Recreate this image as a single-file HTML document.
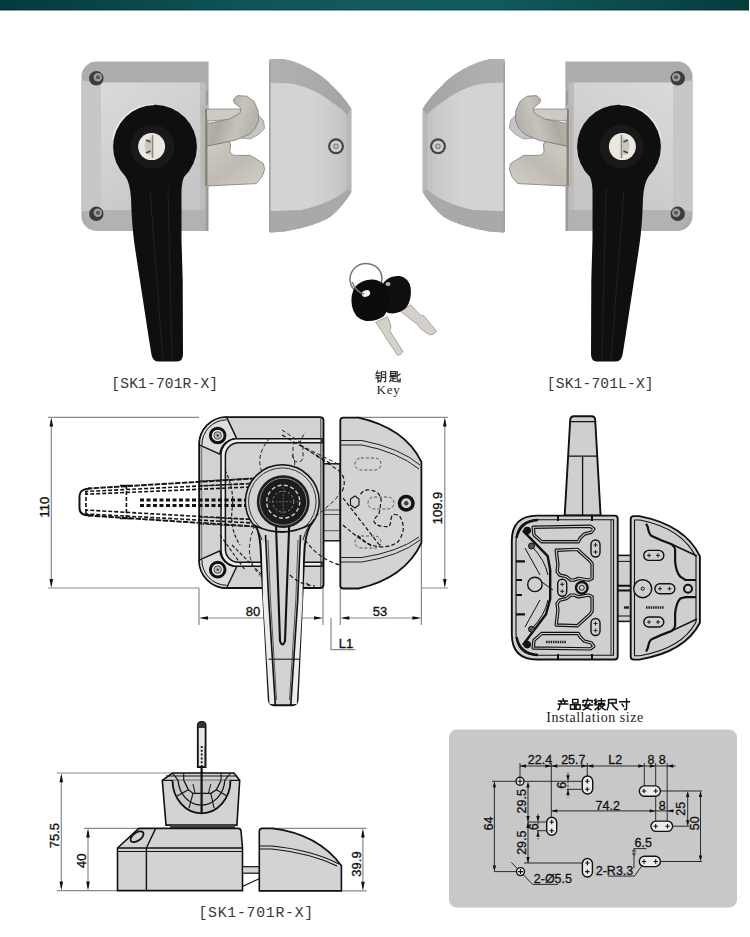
<!DOCTYPE html>
<html><head><meta charset="utf-8">
<style>
html,body{margin:0;padding:0;background:#fff;}
body{width:750px;height:937px;overflow:hidden;position:relative;}
svg{position:absolute;left:0;top:0;display:block;}

</style></head><body>
<svg width="750" height="937" viewBox="0 0 750 937">
<defs>
<linearGradient id="topbar" x1="0" y1="0" x2="1" y2="0">
<stop offset="0" stop-color="#053a3c"/><stop offset="0.2" stop-color="#0a4a4c"/><stop offset="0.33" stop-color="#0f5558"/><stop offset="0.5" stop-color="#115a5e"/><stop offset="0.67" stop-color="#105a5c"/><stop offset="0.87" stop-color="#0a4848"/><stop offset="1" stop-color="#063c3e"/>
</linearGradient>
<linearGradient id="frameTop" x1="0" y1="0" x2="0" y2="1">
<stop offset="0" stop-color="#b4b4b4"/><stop offset="1" stop-color="#a4a4a4"/>
</linearGradient>
<linearGradient id="face" x1="0" y1="0" x2="1" y2="1">
<stop offset="0" stop-color="#d4d4d4"/><stop offset="1" stop-color="#c8c8c8"/>
</linearGradient>
<linearGradient id="steel" x1="0" y1="0" x2="1" y2="1">
<stop offset="0" stop-color="#dcdad6"/><stop offset="0.5" stop-color="#b9b6b0"/><stop offset="1" stop-color="#d6d3cd"/>
</linearGradient>
<linearGradient id="handleG" x1="0" y1="0" x2="1" y2="0">
<stop offset="0" stop-color="#0c0c0c"/><stop offset="0.5" stop-color="#1c1c1c"/><stop offset="1" stop-color="#0a0a0a"/>
</linearGradient>
<!-- Left photo group (lock R) -->
<linearGradient id="faceG" x1="0" y1="0" x2="0.6" y2="1">
<stop offset="0" stop-color="#dadada"/><stop offset="0.6" stop-color="#cfcfcf"/><stop offset="1" stop-color="#c6c6c6"/>
</linearGradient>
<linearGradient id="strikeTop" x1="0" y1="0" x2="1" y2="1">
<stop offset="0" stop-color="#b2b2b2"/><stop offset="1" stop-color="#9c9c9c"/>
</linearGradient>
<linearGradient id="strikeFace" x1="0" y1="0" x2="1" y2="0">
<stop offset="0" stop-color="#d2d2d2"/><stop offset="0.5" stop-color="#d4d4d4"/><stop offset="0.85" stop-color="#cacaca"/><stop offset="1" stop-color="#c0c0c0"/>
</linearGradient>
<linearGradient id="steel2" x1="0" y1="0" x2="1" y2="0.3">
<stop offset="0" stop-color="#c2beb6"/><stop offset="0.35" stop-color="#aeaaa2"/><stop offset="0.7" stop-color="#c6c3bc"/><stop offset="1" stop-color="#b5b2ab"/>
</linearGradient>
<linearGradient id="steel3" x1="0" y1="0" x2="1" y2="1">
<stop offset="0" stop-color="#cfccc5"/><stop offset="0.5" stop-color="#bfbbb3"/><stop offset="1" stop-color="#d2cfc9"/>
</linearGradient>
<radialGradient id="ringG" cx="0.45" cy="0.4" r="0.6">
<stop offset="0" stop-color="#1e1e1e"/><stop offset="0.55" stop-color="#141414"/><stop offset="1" stop-color="#0a0a0a"/>
</radialGradient>
<g id="photoR">
  <!-- box body -->
  <path d="M96.5,61.5 H208.6 V91 H205.5 V231 H96.5 A15,15 0 0 1 81.5,216 V76.5 A15,15 0 0 1 96.5,61.5 Z" fill="#acacac"/>
  <path d="M81.5,80 V212 L100.5,208 V84 Z" fill="#c7c7c7"/>
  <path d="M84,212 Q86,228 100,231 H205.5 V210 H100.5 Z" fill="#b2b2b2"/>
  <path d="M104.5,82.5 H201 V210 H100.5 V86.5 A4,4 0 0 1 104.5,82.5 Z" fill="url(#faceG)"/>
  <rect x="200" y="82.5" width="5.5" height="127.5" fill="#bdbdbd"/>
  <rect x="205.5" y="91" width="3" height="140" fill="#9a9a9a"/>
  <!-- screws -->
  <circle cx="96.3" cy="78.3" r="7.2" fill="#3c3c3c"/><circle cx="97.8" cy="77.3" r="4.2" fill="#9d9d9d"/><circle cx="98" cy="77.3" r="2" fill="#555"/>
  <circle cx="96.3" cy="213.8" r="7.2" fill="#3c3c3c"/><circle cx="97.8" cy="212.8" r="4.2" fill="#9d9d9d"/><circle cx="98" cy="212.8" r="2" fill="#555"/>
  <!-- latch -->
  <rect x="201.8" y="105" width="6.4" height="82" fill="#b9b6b0"/>
  <path d="M205.9,109 H241 L241,119 L207,121 Z" fill="#cdcac4" stroke="#7e7b75" stroke-width="0.7"/>
  <path d="M258.7,115.5 L263.4,120.2 L264.6,128.4 L258.7,134.3 L250.5,139 L238.7,137.8 Z" fill="#c4c6c8" stroke="#8b8985" stroke-width="0.7"/>
  <path d="M207,146 L229.3,141.3 Q231.5,144 229.9,150.7 Q230.5,155.4 236,155.4 H250.5 L263.4,163.6 L264.6,169.5 L262.2,176.5 L256.3,183.6 L207,186 Z" fill="url(#steel3)" stroke="#7e7b75" stroke-width="0.8"/>
  <path d="M207,123.7 L229.3,119 L239.9,113.2 L241.1,108.5 L234,102.6 L233.5,99.1 L237.6,95.6 L246.9,96.2 L254,101.4 L258.1,110.8 L258.7,120.2 L255.2,128.4 L249.3,134.3 L235.2,140.2 L207,146 Z" fill="url(#steel2)" stroke="#7e7b75" stroke-width="0.8"/>
  <path d="M206,109 V186" stroke="#6f6c66" stroke-width="1.2"/>
  <!-- strike -->
  <path d="M270.5,59.1 H284.3 C300,62 322,74 331,84.5 C340,93 347,101 351.3,108.8 V192 C345,203 338,210 331,216.3 C322,223 300,229 284.3,231.5 L270.5,232.6 Q269,232.6 269,231 V60.7 Q269,59.1 270.5,59.1 Z" fill="url(#strikeTop)"/>
  <path d="M269.5,82.5 L290.4,83.5 C300,85 305,87 310.7,89.6 C318,93 322,95 326.9,98.7 C333,103 337,106 341.1,108.8 L347.2,114.9 V190 C340,196 333,199 326.9,202.1 C318,206 309,208.5 300.6,210.2 L269.5,211.3 Z" fill="url(#strikeFace)"/>
  <path d="M347.2,114.9 L351.3,108.8 V192 L347.2,190 Z" fill="#b8b8b8"/>
  <path d="M269.5,211.3 L300.6,210.2 C309,208.5 318,206 326.9,202.1 C333,199 340,196 347.2,190 L351.3,192 C345,203 338,210 331,216.3 C322,223 300,229 284.3,231.5 L270.5,232.6 Z" fill="#a9a9a9"/>
  <rect x="269" y="62" width="1.6" height="168" fill="#a0a0a0"/>
  <circle cx="336" cy="146.3" r="8" fill="#454545"/><circle cx="336" cy="146.3" r="5.8" fill="#cfcfcf"/><circle cx="336" cy="146.3" r="2.8" fill="#8a8a8a"/><circle cx="336" cy="146.3" r="1.2" fill="#d8d8d8"/>
  <!-- handle -->
  <path d="M125.5,176.5 Q130,183 131,198 C131.5,215 132.5,232 135,248 L148,333 L151,352 Q152,361.5 158,361.5 H177 Q183,361.5 183,354 L182.7,280 L181.5,240 L181.5,190 Q182,182 184,177 A41.9,41.9 0 1 0 125.5,176.5 Z" fill="#0f0f0f"/>
  <path d="M153.9,104.7 A41.9,41.9 0 0 0 112.5,140" fill="none" stroke="#f2f2f2" stroke-width="1.2" opacity="0.8"/>
  <path d="M150,190 L163,360 M168,188 L172,360" stroke="#262626" stroke-width="1.2" opacity="0.7"/>
  <circle cx="152.5" cy="146.6" r="22" fill="#191919"/>
  <circle cx="151.6" cy="146.6" r="13.5" fill="#e9e7e0"/>
  <path d="M152.5,135 V158" stroke="#8a867c" stroke-width="1.6"/>
  <path d="M152,137.5 Q144,139 144.5,146.5 Q145,154 152,155.5 Z" fill="#c9c5bb"/>
  <path d="M146,140 L150.5,142 M146,153 L150.5,151" stroke="#444" stroke-width="1.4"/>
</g>
</defs>
<rect x="0" y="0" width="750" height="937" fill="#ffffff"/>
<rect x="0" y="0" width="749" height="10.4" fill="url(#topbar)"/>
<rect x="0" y="9.4" width="749" height="1" fill="#000" opacity="0.25"/>
<use href="#photoR"/>
<use href="#photoR" transform="translate(774,0) scale(-1,1)"/>
<text x="164.8" y="388.2" text-anchor="middle" style="font-family:'Liberation Mono',monospace;font-size:14.6px" fill="#383838" letter-spacing="0.15">[SK1-701R-X]</text>
<text x="600.3" y="388.2" text-anchor="middle" style="font-family:'Liberation Mono',monospace;font-size:14.6px" fill="#383838" letter-spacing="0.15">[SK1-701L-X]</text>


<!-- ===== KEYS ===== -->
<g id="keys">
  <ellipse cx="366" cy="279" rx="16" ry="15.5" fill="none" stroke="#767676" stroke-width="1.5" transform="rotate(-10 366 279)"/>
  <!-- key2 blade -->
  <path d="M400.2,311 L410.7,304.7 L420,315 L424,316 L436.6,331.3 L433,334.5 L429.6,334.8 L421,329 L418,325 Z" fill="#d4d1ca" stroke="#9a968e" stroke-width="0.8"/>
  <!-- key2 head -->
  <path d="M384,282 Q390,275 400,276 Q409,278 410.7,288 Q412,300 406,308 Q398,315 388,313 Q381,310 380.6,298 Q380,288 384,282 Z" fill="#0f0f0f"/>
  <!-- key1 blade -->
  <path d="M375.7,322.2 L387.6,316.6 L391,326 L390,331 L403,351.6 L400,355 L397.4,355.1 L386,338 L381,330 Z" fill="#d4d1ca" stroke="#9a968e" stroke-width="0.8"/>
  <!-- key1 head -->
  <path d="M355,287 Q362,279 373,279.5 Q386,281 389.7,294 Q391,307 384,316 Q376,322 365,320.8 Q354,318 352,306 Q350,295 355,287 Z" fill="#0c0c0c"/>
  <ellipse cx="366" cy="293.5" rx="4.3" ry="3.2" fill="#f4f4f4" transform="rotate(-20 366 293.5)"/>
  <path d="M352,282 Q356,292 364,294" fill="none" stroke="#7a7a7a" stroke-width="1.4"/>
  <ellipse cx="388" cy="284" rx="2.5" ry="2" fill="#dcdcdc" opacity="0.8"/>
</g>
<g id="cn-key"><path d="M2.5,0.3 L0.8,3.5 M2,2.4 H5 M1,5 H4.8 M0.8,7.5 H4.8 M2.9,5 V11.6 L5,10.2 M6.5,1 V7 Q6.4,10 5.4,11.8 M6.5,1 H11 V10.8 Q11,11.8 9.6,11.4 M6.5,4.2 H11 M6.5,7 H11" transform="translate(375.2,370.8) scale(0.95)" fill="none" stroke="#2a2a2a" stroke-width="1.211" stroke-linecap="square"/><path d="M1.5,0.8 H6.8 V5 H1.5 Z M1.5,2.9 H6.8 M0.6,6.3 H7 M3.8,6.3 V10.3 M3.8,8.3 H6.4 M2,7.6 Q1.8,10 0.4,11.4 M1.6,10.2 Q4.5,11.6 11.6,11.6 M8.4,0.8 V9 Q8.4,10 9.8,10 H11.6 V8.4 M8.4,5.6 L11.4,3.4" transform="translate(389.2,370.8) scale(0.95)" fill="none" stroke="#2a2a2a" stroke-width="1.211" stroke-linecap="square"/></g>
<text x="388.6" y="393.5" text-anchor="middle" style="font-family:'Liberation Serif',serif;font-size:13px" fill="#2a2a2a" letter-spacing="0.9">Key</text>
<g id="cn-title"><path d="M6,0.3 L6.8,1.8 M1.5,2.6 H10.5 M3.8,3.6 L4.6,5 M8.2,3.6 L7.4,5 M1,5.7 H11 M2.6,5.7 V8 Q2.4,10.5 0.8,11.8" transform="translate(557.3,698.6) scale(0.95)" fill="none" stroke="#111" stroke-width="1.526" stroke-linecap="square"/><path d="M3.2,0.8 H8.8 V4.6 H3.2 Z M0.9,6.4 H5.2 V11.2 H0.9 Z M6.8,6.4 H11.1 V11.2 H6.8 Z" transform="translate(569.5999999999999,698.6) scale(0.95)" fill="none" stroke="#111" stroke-width="1.526" stroke-linecap="square"/><path d="M6,0.1 L6.6,1.5 M1.2,4 V2 H10.8 V4 M5.2,3.6 Q4.2,6 2.6,8 L9.5,11.6 M8.3,5.2 Q7.2,9.6 1.4,11.8 M0.8,6.8 H11.2" transform="translate(581.9,698.6) scale(0.95)" fill="none" stroke="#111" stroke-width="1.526" stroke-linecap="square"/><path d="M1.8,0.6 V5.8 M0.4,1.8 L1.2,3 M0.4,5.2 L2.8,3.6 M4.2,2.2 H11.2 M7.6,0.2 V5.2 M4.8,5.2 H10.6 M0.8,6.6 H11.2 M6,5.6 V6.6 M5.6,6.8 Q4.2,9.6 1,11.6 M4.4,8.6 V11.8 L6.2,10.8 M6.2,7.8 Q8.2,10.2 11.6,11.8 M9.8,7.4 L8.2,8.8" transform="translate(594.1999999999999,698.6) scale(0.95)" fill="none" stroke="#111" stroke-width="1.526" stroke-linecap="square"/><path d="M2.2,1 H10.2 V4.6 H2.2 M2.2,1 V5 Q2.2,9 0.5,11.8 M5.6,4.6 Q7.2,9.2 11.6,11.8" transform="translate(606.5,698.6) scale(0.95)" fill="none" stroke="#111" stroke-width="1.526" stroke-linecap="square"/><path d="M0.8,3.4 H11.2 M8.2,0.4 V10.8 Q8.2,11.8 6.4,11.4 M3.4,5.8 L5,8.2" transform="translate(618.8,698.6) scale(0.95)" fill="none" stroke="#111" stroke-width="1.526" stroke-linecap="square"/></g>
<!-- ===== FRONT VIEW DRAWING ===== -->
<g id="front" fill="none" stroke-linecap="butt">
  <!-- dimension lines -->
  <g stroke="#8a8a8a" stroke-width="1.2">
    <path d="M48,417.3 H199 M48,588 H199 M51.3,420 V585"/>
    <path d="M357,417.3 H448 M421,588 H448 M444.8,420 V585"/>
    <path d="M199,588 V625 M323,588 V625 M340.3,588 V625 M421.4,543 V625"/>
    <path d="M202,618 H320 M343,618 H418"/>
    <path d="M331,618 V649.6 H355.4"/>
  </g>
  <g fill="#111">
    <path d="M51.3,417.5 L49.5,426.5 H53.1 Z M51.3,588.0 L49.5,579.0 H53.1 Z"/>
    <path d="M444.8,417.5 L443.0,426.5 H446.6 Z M444.8,588.0 L443.0,579.0 H446.6 Z"/>
    <path d="M199.0,618.0 L208.0,616.2 V619.8 Z M323.0,618.0 L314.0,616.2 V619.8 Z"/>
    <path d="M340.3,618.0 L349.3,616.2 V619.8 Z M421.4,618.0 L412.4,616.2 V619.8 Z"/>
  </g>
  <g fill="#111" stroke="#111" stroke-width="0.35" style="font-family:'Liberation Sans',sans-serif;font-size:13px">
    <text x="0" y="0" text-anchor="middle" transform="translate(48.6,507.2) rotate(-90)">110</text>
    <text x="0" y="0" text-anchor="middle" transform="translate(442,508) rotate(-90)">109.9</text>
    <text x="253" y="616" text-anchor="middle">80</text>
    <text x="380" y="616" text-anchor="middle">53</text>
    <text x="346" y="648" text-anchor="middle">L1</text>
  </g>
  <!-- connector -->
  <rect x="323" y="463.8" width="17.3" height="77" fill="#d3d3d3" stroke="#111" stroke-width="1.4"/>
  <path d="M323,510 H340 M323,514.5 H340 M323,530.7 H340" stroke="#333" stroke-width="0.8"/>
  <!-- body -->
  <path d="M226.5,417.1 H320 Q323.5,417.1 323.5,420.5 V584.7 Q323.5,588 320,588 H226.5 A27.5,27.5 0 0 1 199.2,560.4 V444.7 A27.5,27.5 0 0 1 226.5,417.1 Z" fill="#d2d2d2" stroke="#111" stroke-width="1.9"/>
  <path d="M226.5,417.1 L236.8,438.6 A17,17 0 0 0 219.9,454.2 L199.2,444.9 A27.5,27.5 0 0 1 226.5,417.1 Z" fill="#dddddd" stroke="#111" stroke-width="1.4"/>
  <path d="M226.5,588 L236.8,566.5 A17,17 0 0 1 219.9,550.9 L199.2,560.2 A27.5,27.5 0 0 0 226.5,588 Z" fill="#dddddd" stroke="#111" stroke-width="1.4"/>
  <path d="M201.9,445 A25,25 0 0 1 226.4,419.8 M201.9,560.1 A25,25 0 0 0 226.4,585.3" stroke="#111" stroke-width="1"/>
  <path d="M201.7,447 V558" stroke="#555" stroke-width="0.8"/>
  <path d="M322,438.8 H237 A16,16 0 0 0 221,454.8 V550.3 A16,16 0 0 0 237,566.3 H322 V562.3 H238.5 A13,13 0 0 1 225.4,549.3 V455.8 A13,13 0 0 1 238.5,442.8 H322 Z" fill="#eeeeee" stroke="#111" stroke-width="1.5"/>
  <path d="M320.8,417.1 V588" stroke="#333" stroke-width="0.9"/>
  <!-- screws -->
  <circle cx="217.7" cy="435.5" r="7.3" fill="#eeeeee" stroke="#111" stroke-width="3"/><circle cx="217.7" cy="435.5" r="3.8" fill="#bdbdbd" stroke="#222" stroke-width="0.8"/><circle cx="217.7" cy="435.5" r="1.2" fill="#333"/>
  <circle cx="217.7" cy="569.6" r="7.3" fill="#eeeeee" stroke="#111" stroke-width="3"/><circle cx="217.7" cy="569.6" r="3.8" fill="#bdbdbd" stroke="#222" stroke-width="0.8"/><circle cx="217.7" cy="569.6" r="1.2" fill="#333"/>
  <!-- ghost handle (dashed) -->
  <g stroke="#111" stroke-width="1.6" stroke-dasharray="4 2">
    <path d="M262,478 L88,488.5 M88,515.5 L262,527" stroke-dasharray="5.5 1.3" stroke-width="1.9"/>
    <path d="M90,488.5 Q79.5,489 79.5,496 V508 Q79.5,515.5 90,515.5" stroke-dasharray="none" stroke-width="2"/>
    <path d="M262,483 L85,491.5 M262,486.5 L85,494.3 M262,520 L85,510 M262,523.5 L85,513.9"/>
    <path d="M86,491 V514 M126.4,485 V520"/>
  </g>
  <path d="M120,485.5 H132 M120,518.5 H132" stroke="#111" stroke-width="1.4"/>
  <g stroke="#111" stroke-width="3.2" stroke-dasharray="4 2.5">
    <path d="M140,500 H262 M140,505.5 H262"/>
  </g>
  <g stroke="#222" stroke-width="1.2" stroke-dasharray="3.5 2">
    <path d="M225,470 Q235,490 232,510 Q230,530 240,545 M220,535 L245,570 M232,545 L262,575"/>
  </g>
  <!-- internal dashed hidden lines (ghost) on body -->
  <g stroke="#222" stroke-width="1" stroke-dasharray="4 2.5">
    <path d="M200,481 L262,478 M200,524 L262,527 M200,485.9 L262,483 M200,517 L262,520"/>
    <path d="M270,438 Q255,455 262,472 M282,430 L300,442 L305,432 M292,455 Q300,470 285,468"/>
    <rect x="293" y="442" width="10" height="20" rx="5"/>
    <path d="M300,445 L340,465 Q350,480 335,500 L300,530 Q280,560 290,575 L310,585 M255,525 Q240,560 265,580"/>
  </g>
  <!-- ring -->
  <circle cx="282.3" cy="501.7" r="36.9" fill="#d3d3d3" stroke="#111" stroke-width="1.5"/>
  <circle cx="282.3" cy="501.7" r="33.8" fill="none" stroke="#222" stroke-width="0.9"/>
  <!-- handle -->
  <path d="M256,526 Q260.5,535 261,556 L268.8,700 Q269.5,705.3 274,705.3 H292 Q297,705.3 297.6,700 L304.2,556 Q304.5,535 311,524 Q296,532 282.3,532 Q268,532 256,526 Z" fill="#d3d3d3" stroke="#111" stroke-width="1.9"/>
  <path d="M262,545 L263,600 L269.5,704 H275 L268.7,600 L266,540 Z M303,545 L302.5,600 L296.8,704 H291 L297.7,600 L300,540 Z" fill="#ececec"/>
  <path d="M265.5,535 L268.7,600 L275.3,705 M300.5,535 L297.7,600 L290.8,705" stroke="#111" stroke-width="1.6"/>
  <path d="M268,540 L270.5,600 L276.5,700 M298,540 L295.8,600 L289.5,700" stroke="#333" stroke-width="0.8"/>
  <path d="M268.5,659.2 H300" stroke="#1a1a1a" stroke-width="1.1"/>
  <path d="M276,525 L280,641 Q282.5,648 285,641 L289.2,525" stroke="#111" stroke-width="2.1"/>
  <path d="M250,521 Q258,528 262,540 M314,519 Q306,528 303,540" stroke="#222" stroke-width="1"/>
  <circle cx="283.2" cy="501.7" r="26.4" fill="#1c1c1c"/>
  <circle cx="283.2" cy="501.7" r="23.5" fill="none" stroke="#9a9a9a" stroke-width="0.9"/>
  <circle cx="283.2" cy="501.7" r="16.5" fill="none" stroke="#cfcfcf" stroke-width="1.4" stroke-dasharray="4 2.5"/>
  <circle cx="283.2" cy="501.7" r="10.5" fill="none" stroke="#8a8a8a" stroke-width="1" stroke-dasharray="2.5 2"/>
  <path d="M283.2,487 V516 M268.5,501.7 H298" stroke="#6a6a6a" stroke-width="0.9" stroke-dasharray="2 1.5"/>
  <!-- strike -->
  <path d="M343.3,417.6 H358.5 Q405,428 421.4,461.8 V542.8 Q405,578 358.5,588.5 H343.3 Q340.3,588.5 340.3,585.5 V420.6 Q340.3,417.6 343.3,417.6 Z" fill="#d3d3d3" stroke="#111" stroke-width="1.8"/>
  <path d="M340.3,440.5 H362 Q400,448 420,465 M340.3,445 H362 Q398,452 419,469" stroke="#222" stroke-width="1"/>
  <path d="M340.3,562 H362 Q400,556 420,540 M340.3,557.5 H362 Q398,552 419,537" stroke="#222" stroke-width="1"/>
  <circle cx="406.2" cy="503.3" r="8.5" fill="#111"/><circle cx="406.2" cy="503.3" r="5" fill="#d3d3d3"/><circle cx="406.2" cy="503.3" r="2.3" fill="#444"/>
  <g stroke="#555" stroke-width="1" stroke-dasharray="3 2">
    <rect x="355" y="458" width="26" height="12" rx="6"/>
    <rect x="368" y="497" width="26" height="12" rx="6"/>
    <rect x="355" y="536" width="26" height="12" rx="6"/>
  </g>
  <g stroke="#111" stroke-width="1.2" stroke-dasharray="4 2.2">
    <path d="M360.5,494.2 Q364,489 369.7,490.1 Q377,491 378.8,494.2 Q382,499 380.8,502.3 Q380,510 378.8,514.5 Q372,520 374.7,522.6 Q377,527 388.9,526.6 Q391,524 391,518.5 Q392,514 395,514.5 Q400,515 401,518.5 Q404,525 403.1,530.7 Q401,539 397,542.8 Q390,547 380.8,546.9 Q372,546 366.6,542.8 L356.5,534.7"/>
    <path d="M343,498 L381,547 M343,525 Q360,540 372,546"/>
  </g>
  <path d="M350.5,499 L355,496 L359,499 L359,505 L355,508 L350.5,505 Z" fill="none" stroke="#111" stroke-width="1.1"/>
  <g stroke="#111" stroke-width="1.1" stroke-dasharray="4 2.5">
    <path d="M282,435 L330,463 M300,445 L338,470 Q348,478 342,492"/>
    <path d="M305,540 Q320,560 340,565 M290,575 Q300,585 315,586"/>
  </g>

</g>


<!-- ===== REAR VIEW DRAWING ===== -->
<g id="rear" fill="none">
  <!-- handle -->
  <path d="M574,416.3 H591.5 Q595,416.3 595.2,420 L600.6,515.5 H564.7 L570.2,420 Q570.5,416.3 574,416.3 Z" fill="#cfcfcf" stroke="#111" stroke-width="1.9"/>
  <path d="M570.3,421.6 H595 M568,456.2 H597.5 M582.6,456.2 V515" stroke="#111" stroke-width="1.3"/>
  <!-- connector -->
  <rect x="617" y="555.4" width="14" height="66" fill="#cfcfcf" stroke="#111" stroke-width="1.5"/>
  <path d="M617,561.4 H631 M617,616 H631" stroke="#111" stroke-width="1"/>
  <path d="M617,585.8 H631 M617,590.4 H631" stroke="#111" stroke-width="2"/>
  <!-- body -->
  <path d="M537,515.6 H614.7 Q617.7,515.6 617.7,518.6 V656.5 Q617.7,659.5 614.7,659.5 H537 Q511.8,659.5 511.8,634 V541 Q511.8,515.6 537,515.6 Z" fill="#cfcfcf" stroke="#111" stroke-width="1.9"/>
  <path d="M538,519.8 H613.5 V655.3 H538 Q516,655.3 516,633 V542 Q516,519.8 538,519.8 Z" stroke="#111" stroke-width="1.1"/>
  <path d="M611,520 V655" stroke="#111" stroke-width="0.9"/>
  <g fill="none" stroke-linejoin="round">
    <path d="M533.2,527.2 L590.4,526.3 L593.8,528.9 L591.2,532.3 L584.4,534 L580.1,538.3 L578.4,541.7 L541.7,541.7 L534,534.9 Z M533.2,648.0 L590.4,648.9 L593.8,646.3 L591.2,642.9 L584.4,641.2 L580.1,636.9 L578.4,633.5 L541.7,633.5 L534,640.3 Z M556.2,550.2 L577.5,549.4 L580.1,551.9 L590.4,561.3 L592.1,563.9 L592.1,578.4 L588.6,580.1 L578.4,578.4 L574.1,580.1 L570.7,580.1 L566.5,576.7 L559.6,575 L557.1,571.6 L557.9,564.8 Z M556.2,625.0 L577.5,625.8 L580.1,623.3 L590.4,613.9 L592.1,611.3 L592.1,596.8 L588.6,595.1 L578.4,596.8 L574.1,595.1 L570.7,595.1 L566.5,598.5 L559.6,600.2 L557.1,603.6 L557.9,610.4 Z" stroke="#111" stroke-width="3.4"/>
    <path d="M533.2,527.2 L590.4,526.3 L593.8,528.9 L591.2,532.3 L584.4,534 L580.1,538.3 L578.4,541.7 L541.7,541.7 L534,534.9 Z M533.2,648.0 L590.4,648.9 L593.8,646.3 L591.2,642.9 L584.4,641.2 L580.1,636.9 L578.4,633.5 L541.7,633.5 L534,640.3 Z M556.2,550.2 L577.5,549.4 L580.1,551.9 L590.4,561.3 L592.1,563.9 L592.1,578.4 L588.6,580.1 L578.4,578.4 L574.1,580.1 L570.7,580.1 L566.5,576.7 L559.6,575 L557.1,571.6 L557.9,564.8 Z M556.2,625.0 L577.5,625.8 L580.1,623.3 L590.4,613.9 L592.1,611.3 L592.1,596.8 L588.6,595.1 L578.4,596.8 L574.1,595.1 L570.7,595.1 L566.5,598.5 L559.6,600.2 L557.1,603.6 L557.9,610.4 Z" stroke="#cfcfcf" stroke-width="1.1"/>
    <path d="M522.9,530.6 L547.7,556.2 L550.2,569.9 L550.2,598.9 L546,614.3 L522.9,645" stroke="#111" stroke-width="2.4"/>
    <path d="M531.5,546 Q545,560 548,575 M531.5,629 Q545,615 548,600 M525,548 L540,575 M540,600 L525,627 M553,590 L534.9,577" stroke="#111" stroke-width="1"/>
    <path d="M538,520 Q520,521 516.5,538 M538,655 Q520,654 516.5,637" stroke="#111" stroke-width="2.4"/>
  </g>
  <path d="M558,516 V521 M592,516 V521 M558,654 V659 M592,654 V659" stroke="#111" stroke-width="2"/>
  <path d="M516,561.3 H525 M516,614.3 H525 M516,580 H522 M516,595 H522" stroke="#111" stroke-width="2.2"/>
  <g stroke="#111" stroke-width="1.4" fill="#cfcfcf">
    <rect x="591" y="540" width="9" height="17" rx="4.5"/>
    <rect x="591" y="618.5" width="9" height="17" rx="4.5"/>
    <rect x="557.7" y="579.3" width="9" height="17" rx="4.5"/>
    <circle cx="534.9" cy="584.4" r="7.2"/>
  </g>
  <path d="M593.5,545 H597.5 M595.5,543 V547 M593.5,552 H597.5 M595.5,550 V554 M593.5,623.5 H597.5 M595.5,621.5 V625.5 M593.5,630.5 H597.5 M595.5,628.5 V632.5 M560.2,584.3 H564.2 M562.2,582.3 V586.3 M560.2,591.3 H564.2 M562.2,589.3 V593.3" stroke="#111" stroke-width="0.9"/>
  <circle cx="581.8" cy="587.8" r="5.8" fill="#cfcfcf" stroke="#111" stroke-width="2.4"/>
  <circle cx="581.8" cy="587.8" r="2.5" stroke="#111" stroke-width="0.9"/>
  <circle cx="527.2" cy="530.6" r="3.8" fill="#111"/><circle cx="527.2" cy="644.6" r="3.8" fill="#111"/>
  <circle cx="531.5" cy="546" r="3" fill="#555" stroke="#111" stroke-width="1"/><circle cx="531.5" cy="629.2" r="3" fill="#555" stroke="#111" stroke-width="1"/>
  <path d="M546,642 H566" stroke="#222" stroke-width="2.6" stroke-dasharray="1.5 0.8"/>
  <!-- strike -->
  <path d="M633.7,516.1 H639.3 Q685,525 699.9,556.2 V622.8 Q685,652 639.3,659.6 H633.7 Q630.7,659.6 630.7,656.6 V519.1 Q630.7,516.1 633.7,516.1 Z" fill="#cfcfcf" stroke="#111" stroke-width="1.9"/>
  <path d="M634.5,520 H640 Q682,528.5 696,557 V622 Q682,648.5 640,655.7 H634.5 Z" stroke="#111" stroke-width="1.1"/>
  <g stroke="#111" stroke-width="2.2">
    <path d="M646.1,523.8 L647.8,527.2 Q649,534 651.2,535.7 Q660,540 671.7,544.3 Q675,547 675.1,549.4 V561.4 Q676,572 680.3,576.7 L685.4,580 H696"/>
    <path d="M646.1,651.4 L647.8,648 Q649,641.2 651.2,639.5 Q660,635.2 671.7,630.9 Q675,628.2 675.1,625.8 V613.8 Q676,603.2 680.3,598.5 L685.4,597.2 H696"/>
    <path d="M671.7,544.3 L697,556 M671.7,630.9 L697,619" stroke-width="1.6"/>
  </g>
  <g stroke="#111" stroke-width="1.4" fill="#cfcfcf">
    <rect x="643.8" y="550.4" width="20" height="10" rx="5"/>
    <rect x="654.9" y="583.7" width="20" height="10" rx="5"/>
    <rect x="643.8" y="617" width="20" height="10" rx="5"/>
    <circle cx="642.7" cy="588.7" r="9"/>
  </g>
  <path d="M647,555.4 H651 M649,553.4 V557.4 M656,555.4 H660 M658,553.4 V557.4 M658,588.7 H662 M660,586.7 V590.7 M667.5,588.7 H671.5 M669.5,586.7 V590.7 M647,622 H651 M649,620 V624 M656,622 H660 M658,620 V624" stroke="#111" stroke-width="0.9"/>
  <circle cx="642.7" cy="588.7" r="1.6" stroke="#111" stroke-width="1"/>
  <circle cx="688" cy="588.7" r="4" fill="#cfcfcf" stroke="#111" stroke-width="2"/>
  <path d="M646,607.5 H664" stroke="#222" stroke-width="2.6" stroke-dasharray="1.5 0.8"/>
  <path d="M624,607.5 H629" stroke="#222" stroke-width="2.4"/>
</g>
<!-- ===== SIDE VIEW DRAWING ===== -->
<g id="side" fill="none">
  <g stroke="#8a8a8a" stroke-width="1.2">
    <path d="M57,773 H172 M84,828.4 H139 M57,890.6 H117 M61.3,776 V887.5 M88,831 V887.5"/>
    <path d="M272,828.4 H366.6 M341,890.9 H366.6 M362.9,831.5 V888"/>
  </g>
  <g fill="#111">
    <path d="M61.3,773.2 L59.5,782.2 H63.1 Z M61.3,890.4 L59.5,881.4 H63.1 Z"/>
    <path d="M88.0,828.6 L86.2,837.6 H89.8 Z M88.0,890.4 L86.2,881.4 H89.8 Z"/>
    <path d="M362.9,828.6 L361.1,837.6 H364.7 Z M362.9,890.7 L361.1,881.7 H364.7 Z"/>
  </g>
  <g fill="#111" stroke="#111" stroke-width="0.35" style="font-family:'Liberation Sans',sans-serif;font-size:13px">
    <text x="0" y="0" text-anchor="middle" transform="translate(58.6,835.6) rotate(-90)">75.5</text>
    <text x="0" y="0" text-anchor="middle" transform="translate(85.8,860.8) rotate(-90)">40</text>
    <text x="0" y="0" text-anchor="middle" transform="translate(360.8,864) rotate(-90)">39.9</text>
  </g>
  <!-- handle stick -->
  <path d="M201.6,767 V812" stroke="#111" stroke-width="2.2"/>
  <path d="M197.8,767 V725.5 Q197.8,721.8 201.7,721.8 Q205.6,721.8 205.6,725.5 V767 Z" fill="#e8e8e8" stroke="#111" stroke-width="1.8"/>
  <path d="M198.2,722.5 H205.2 V728 H198.2 Z" fill="#333"/>
  <path d="M201.7,746 V766" stroke="#111" stroke-width="1.8" stroke-dasharray="2 1.8"/>
  <path d="M198.5,746 V767 M204.8,746 V767" stroke="#444" stroke-width="0.8"/>
  <!-- head -->
  <path d="M172.5,773 H234 L239.7,780.3 L236.9,825.1 H166 L162.3,780.3 Z" fill="#d3d3d3" stroke="#111" stroke-width="1.6"/>
  <path d="M162.3,780.3 H239.7" stroke="#111" stroke-width="1.2"/>
  <rect x="170" y="825" width="65" height="3.4" fill="#444"/>
  <path d="M172.5,780.3 A29,33 0 0 0 230.5,780.3" fill="#c8c8c8" stroke="#111" stroke-width="1.8"/>
  <path d="M178.1,780.3 A23.4,26.5 0 0 0 224.8,780.3" stroke="#111" stroke-width="1.3"/>
  <path d="M183.7,780.3 L188.4,789.7 L193,793.4 H210.8 L216.4,789.7 L221.1,780.3" stroke="#111" stroke-width="1.3"/>
  <path d="M188.4,789.7 L177,796 M193,793.4 L189,808 M210.8,793.4 L214,808 M216.4,789.7 L227,796" stroke="#111" stroke-width="1.1"/>
  <path d="M166,776 H237 M172.5,773 L178.1,780.3 M230.5,773 L224.8,780.3 M183.7,773.5 V780.3 M221.1,773.5 V780.3" stroke="#111" stroke-width="1.1"/>
  <path d="M193,784 L195,793 M210.8,784 L208.5,793" stroke="#111" stroke-width="1"/>
  <path d="M201.6,772 V813" stroke="#111" stroke-width="2.2"/>
  <!-- base -->
  <path d="M138.9,828.4 H238 Q240.7,828.4 241,831 L242.5,848 V890.6 H117.5 V848 Z" fill="#d3d3d3" stroke="#111" stroke-width="1.6"/>
  <path d="M117.5,848 H242.5" stroke="#111" stroke-width="1.6"/>
  <path d="M117.5,851.5 H242.5" stroke="#111" stroke-width="1"/>
  <path d="M146.4,848 V890.6 M146.4,848 L155.7,828.4" stroke="#111" stroke-width="1.4"/>
  <ellipse cx="137" cy="836.8" rx="7.5" ry="4" transform="rotate(-35 137 836.8)" stroke="#111" stroke-width="1.8" fill="#d3d3d3"/>
  <!-- connector -->
  <rect x="242.5" y="866.7" width="17" height="6.5" fill="#d3d3d3" stroke="#111" stroke-width="1.2"/>
  <path d="M243,886.3 L259,878.8" stroke="#111" stroke-width="1.2"/>
  <!-- strike side -->
  <path d="M262.3,828.4 H272.3 Q318,834 341.4,865.7 V890.9 H259.3 V831.4 Q259.3,828.4 262.3,828.4 Z" fill="#d3d3d3" stroke="#111" stroke-width="1.6"/>
  <path d="M259.3,846 H272 Q312,850 339,864 M259.3,849 H272 Q310,853 337,866" stroke="#111" stroke-width="1.1"/>
</g>
<text x="256.2" y="917" text-anchor="middle" style="font-family:'Liberation Mono',monospace;font-size:14.8px" fill="#383838" letter-spacing="0.75">[SK1-701R-X]</text>

<!-- installation panel -->

<rect x="449" y="729.6" width="288" height="178" rx="8" fill="#c8c8c8"/>
<g id="inst" fill="none">
  <g stroke="#2a2a2a" stroke-width="1">
    <!-- top horizontal dim -->
    <path d="M520,766 H675.5 M520,763 V777 M551.3,763 V817.3 M587.3,763 V776 M644.3,763 V786 M655.7,763 V786 M667.2,763 V821"/>
    <!-- left 64 -->
    <path d="M492,781.3 H516 M494,871.6 H516.5 M494.4,784 V869"/>
    <!-- 29.5 -->
    <path d="M524,781.3 H582.3 M528,784 V863 M528,822 H546.7 M524,863 H582.4"/>
    <!-- 6 dims -->
    <path d="M566.7,789.3 H582.3 M536.7,830.7 H546.7"/>
    <!-- 74.2 -->
    <path d="M551.3,810.9 H674"/>
    <path d="M655.7,796 V821"/>
    <!-- 25 / 50 -->
    <path d="M660.4,791 H702 M672.6,826.2 H689.5 M660.4,861.5 H702 M687.7,793 V824 M700.5,793 V859"/>
    <!-- 6.5 -->
    <path d="M634,848.6 H646.6 M634,848.6 V868"/>
    <!-- leaders -->
    <path d="M511.3,862.4 L532.7,884.4 H558.3"/>
    <path d="M608,876.1 H634.5 L641.8,865.9"/>
  </g>
  <g stroke="#2a2a2a" stroke-width="1" stroke-dasharray="2.5 1.5">
    <path d="M568,772.7 V797.3 M538,814 V839.3"/>
  </g>
  <g fill="#111">
    <path d="M520,766 L526,764.3 V767.7 Z M551.3,766 L545.3,764.3 V767.7 Z M551.3,766 L557.3,764.3 V767.7 Z M587.3,766 L581.3,764.3 V767.7 Z M587.3,766 L593.3,764.3 V767.7 Z M644.3,766 L638.3,764.3 V767.7 Z M655.7,766 L649.7,764.3 V767.7 Z M667.2,766 L673.2,764.3 V767.7 Z"/>
    <path d="M494.4,781.3 L492.7,787.3 H496.1 Z M494.4,871.6 L492.7,865.6 H496.1 Z"/>
    <path d="M528,781.5 L526.3,787.5 H529.7 Z M528,863 L526.3,857 H529.7 Z M528,822 L526.3,816 H529.7 Z M528,822 L526.3,828 H529.7 Z"/>
    <path d="M568,781.3 L566.3,775.3 H569.7 Z M568,789.3 L566.3,795.3 H569.7 Z M538,822 L536.3,816 H539.7 Z M538,830.7 L536.3,836.7 H539.7 Z"/>
    <path d="M551.3,810.9 L557.3,809.2 V812.6 Z M655.7,810.9 L649.7,809.2 V812.6 Z M667.2,810.9 L673.2,809.2 V812.6 Z"/>
    <path d="M687.7,791 L686,797 H689.4 Z M687.7,826.2 L686,820.2 H689.4 Z M700.5,791 L698.8,797 H702.2 Z M700.5,861.5 L698.8,855.5 H702.2 Z"/>
    <path d="M634,848.6 L632.3,854.6 H635.7 Z M634,856.3 L632.3,850.3 H635.7 Z"/>
  </g>
  <!-- holes -->
  <g stroke="#111" stroke-width="1.4" fill="#ececec">
    <circle cx="520" cy="781.3" r="4"/>
    <circle cx="520.5" cy="871.6" r="4"/>
    <rect x="582.3" y="776" width="10.4" height="18" rx="5.2"/>
    <rect x="546.7" y="817.3" width="10" height="18" rx="5"/>
    <rect x="582.4" y="858.5" width="10" height="18.5" rx="5"/>
    <rect x="639.3" y="785.9" width="21.1" height="10.3" rx="5.15"/>
    <rect x="651" y="821.1" width="21.6" height="10.3" rx="5.15"/>
    <rect x="639.3" y="856.3" width="21.1" height="10.3" rx="5.15"/>
  </g>
  <g stroke="#111" stroke-width="1.1">
    <path d="M517.5,781.3 H522.5 M520,778.8 V783.8 M518,871.6 H523 M520.5,869.1 V874.1"/>
    <path d="M585.1,781.3 H589.5 M587.3,779.1 V783.5 M585.1,789.3 H589.5 M587.3,787.1 V791.5"/>
    <path d="M549.5,822 H553.9 M551.7,819.8 V824.2 M549.5,830.7 H553.9 M551.7,828.5 V832.9"/>
    <path d="M585.2,863 H589.6 M587.4,860.8 V865.2 M585.2,871.6 H589.6 M587.4,869.4 V873.8"/>
    <path d="M641.8,791 H646.2 M644,788.8 V793.2 M653.5,791 H657.9 M655.7,788.8 V793.2"/>
    <path d="M653.5,826.2 H657.9 M655.7,824 V828.4 M665.3,826.2 H669.7 M667.5,824 V828.4"/>
    <path d="M641.8,861.5 H646.2 M644,859.3 V863.7 M653.5,861.5 H657.9 M655.7,859.3 V863.7"/>
  </g>
  <g fill="#111" stroke="#111" stroke-width="0.3" style="font-family:'Liberation Sans',sans-serif;font-size:12.5px">
    <text x="540" y="764.4" text-anchor="middle">22.4</text>
    <text x="573.3" y="764.4" text-anchor="middle">25.7</text>
    <text x="615.2" y="764.3" text-anchor="middle">L2</text>
    <text x="651" y="764.3" text-anchor="middle">8</text>
    <text x="662.3" y="764.3" text-anchor="middle">8</text>
    <text x="607.7" y="809.8" text-anchor="middle">74.2</text>
    <text x="662.3" y="809.8" text-anchor="middle">8</text>
    <text x="643.3" y="846.8" text-anchor="middle">6.5</text>
    <text x="552.9" y="882.8" text-anchor="middle">2-Ø5.5</text>
    <text x="614.5" y="874.8" text-anchor="middle">2-R3.3</text>
    <text x="0" y="0" text-anchor="middle" transform="translate(492.5,823.5) rotate(-90)">64</text>
    <text x="0" y="0" text-anchor="middle" transform="translate(525.8,801.3) rotate(-90)">29.5</text>
    <text x="0" y="0" text-anchor="middle" transform="translate(525.8,842.7) rotate(-90)">29.5</text>
    <text x="0" y="0" text-anchor="middle" transform="translate(566.3,785.3) rotate(-90)">6</text>
    <text x="0" y="0" text-anchor="middle" transform="translate(538.3,826.7) rotate(-90)">6</text>
    <text x="0" y="0" text-anchor="middle" transform="translate(685,808.7) rotate(-90)">25</text>
    <text x="0" y="0" text-anchor="middle" transform="translate(699,823.3) rotate(-90)">50</text>
  </g>
</g>
<text x="595" y="722.3" text-anchor="middle" style="font-family:'Liberation Serif',serif;font-size:14px" fill="#1e1e1e" letter-spacing="0.55">Installation size</text>

</svg>
</body></html>
